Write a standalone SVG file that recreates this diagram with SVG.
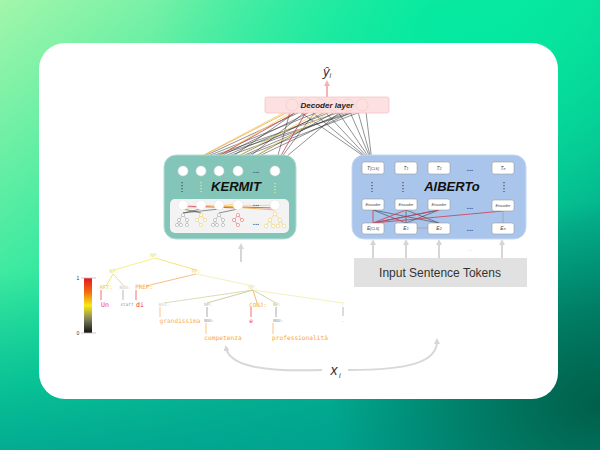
<svg xmlns="http://www.w3.org/2000/svg" width="600" height="450" viewBox="0 0 600 450">
<defs>
<linearGradient id="bg" x1="0" y1="0" x2="1" y2="1">
<stop offset="0" stop-color="#a2f6aa"/>
<stop offset="0.45" stop-color="#10e49c"/>
<stop offset="0.8" stop-color="#00a889"/>
<stop offset="1" stop-color="#00745a"/>
</linearGradient>
<radialGradient id="tr" cx="0.75" cy="0.05" r="0.5">
<stop offset="0" stop-color="#00eaa0" stop-opacity="0.9"/>
<stop offset="1" stop-color="#00eaa0" stop-opacity="0"/>
</radialGradient>
<radialGradient id="br" cx="1" cy="0.9" r="0.45">
<stop offset="0" stop-color="#005a44" stop-opacity="0.9"/>
<stop offset="1" stop-color="#005a44" stop-opacity="0"/>
</radialGradient>
<linearGradient id="bot" x1="0" y1="0" x2="0" y2="1">
<stop offset="0.6" stop-color="#00a08c" stop-opacity="0"/>
<stop offset="1" stop-color="#00a090" stop-opacity="0.8"/>
</linearGradient>
<linearGradient id="scale" x1="0" y1="0" x2="0" y2="1">
<stop offset="0" stop-color="#e8141e"/>
<stop offset="0.25" stop-color="#f26a10"/>
<stop offset="0.5" stop-color="#f8ec10"/>
<stop offset="0.75" stop-color="#808060"/>
<stop offset="1" stop-color="#101010"/>
</linearGradient>
<marker id="ag" viewBox="0 0 10 10" refX="5" refY="5" markerWidth="3" markerHeight="3" orient="auto">
<path d="M0,0 L10,5 L0,10 z" fill="#d6d6d6"/>
</marker>
<marker id="ap" viewBox="0 0 10 10" refX="5" refY="5" markerWidth="3" markerHeight="3" orient="auto">
<path d="M0,0 L10,5 L0,10 z" fill="#f5b4b4"/>
</marker>
<style>
.bl{stroke:#2a2a2a;stroke-width:0.6;stroke-opacity:0.85;fill:none}
.ye{stroke:#f2cf60;stroke-width:0.8;fill:none}
.rd{stroke:#d23a4a;stroke-width:0.8;fill:none}
.or{stroke:#f0a848;stroke-width:0.8;fill:none}
.wc{fill:#ffffff;stroke:#dddddd;stroke-width:0.5}
.box{fill:#ffffff;stroke:#9a9a9a;stroke-width:0.6}
.bt{font-family:'Liberation Sans',Arial,sans-serif;font-style:italic;font-size:5px;fill:#444;text-anchor:middle}
.enc{font-family:'Liberation Sans',Arial,sans-serif;font-style:italic;font-size:4px;fill:#444;text-anchor:middle}
.dots{font-family:'Liberation Sans',Arial,sans-serif;font-size:8px;font-weight:bold;fill:#555;text-anchor:middle}
.vd{stroke:#555;stroke-width:1.3;stroke-dasharray:1.3 1.7}
.vy{stroke:#e8e6a0;stroke-width:1.3;stroke-dasharray:1.3 1.7}
.tl{font-family:'DejaVu Sans Mono',monospace;text-anchor:middle}
.gr{stroke:#d8d8d8;stroke-width:2;fill:none}
.ti{fill:#fff;stroke-width:0.6}
</style>
</defs>
<rect width="600" height="450" fill="url(#bg)"/>
<rect width="600" height="450" fill="url(#tr)"/>
<rect width="600" height="450" fill="url(#bot)"/>
<rect width="600" height="450" fill="url(#br)"/>
<rect x="39" y="43" width="519" height="356" rx="26" fill="#ffffff"/>

<g id="connectors">
<line class="bl" x1="300" y1="112" x2="183" y2="166"/>
<line class="bl" x1="318" y1="112" x2="183" y2="166"/>
<line class="bl" x1="340" y1="112" x2="183" y2="166"/>
<line class="bl" x1="355" y1="112" x2="183" y2="166"/>
<line class="bl" x1="310" y1="112" x2="201" y2="166"/>
<line class="bl" x1="330" y1="112" x2="201" y2="166"/>
<line class="bl" x1="350" y1="112" x2="201" y2="166"/>
<line class="bl" x1="296" y1="112" x2="219" y2="166"/>
<line class="bl" x1="325" y1="112" x2="219" y2="166"/>
<line class="bl" x1="345" y1="112" x2="219" y2="166"/>
<line class="bl" x1="360" y1="112" x2="219" y2="166"/>
<line class="bl" x1="305" y1="112" x2="238" y2="166"/>
<line class="bl" x1="335" y1="112" x2="238" y2="166"/>
<line class="bl" x1="352" y1="112" x2="238" y2="166"/>
<line class="bl" x1="290" y1="112" x2="275" y2="166"/>
<line class="bl" x1="315" y1="112" x2="275" y2="166"/>
<line class="bl" x1="340" y1="112" x2="275" y2="166"/>
<line class="bl" x1="300" y1="112" x2="372" y2="162"/>
<line class="bl" x1="312" y1="112" x2="372" y2="162"/>
<line class="bl" x1="325" y1="112" x2="372" y2="162"/>
<line class="bl" x1="338" y1="112" x2="372" y2="162"/>
<line class="bl" x1="350" y1="112" x2="372" y2="162"/>
<line class="bl" x1="358" y1="112" x2="372" y2="162"/>
<line class="bl" x1="366" y1="112" x2="372" y2="162"/>
<line class="ye" x1="285" y1="112" x2="183" y2="166"/>
<line class="ye" x1="292" y1="112" x2="201" y2="166"/>
<line class="ye" x1="320" y1="112" x2="219" y2="166"/>
<line class="ye" x1="330" y1="112" x2="238" y2="166"/>
<line class="or" x1="288" y1="112" x2="183" y2="166"/>
<line class="rd" x1="306" y1="112" x2="275" y2="166"/>
<line class="rd" x1="296" y1="112" x2="201" y2="166"/>
<line x1="327" y1="97" x2="327" y2="83" stroke="#f5b4b4" stroke-width="2" marker-end="url(#ap)"/>
<line x1="241" y1="262" x2="241" y2="246" stroke="#d6d6d6" stroke-width="2" marker-end="url(#ag)"/>
<line x1="373" y1="258" x2="373" y2="242" stroke="#d6d6d6" stroke-width="2" marker-end="url(#ag)"/>
<line x1="406" y1="258" x2="406" y2="242" stroke="#d6d6d6" stroke-width="2" marker-end="url(#ag)"/>
<line x1="439" y1="258" x2="439" y2="242" stroke="#d6d6d6" stroke-width="2" marker-end="url(#ag)"/>
<line x1="502" y1="258" x2="502" y2="242" stroke="#d6d6d6" stroke-width="2" marker-end="url(#ag)"/>
<text x="470" y="251" font-family="Liberation Sans,Arial,sans-serif" font-size="6" fill="#d6d6d6" text-anchor="middle">...</text>
<path class="gr" d="M322,370 C262,372 230,366 226,348" marker-end="url(#ag)"/>
<path class="gr" d="M348,370 C410,370 437,362 437,341" marker-end="url(#ag)"/>
</g>

<g id="output">
<text x="327" y="76" font-family="Liberation Sans,Arial,sans-serif" font-style="italic" font-size="13" fill="#333" text-anchor="middle">ŷ<tspan font-size="7" dy="2">i</tspan></text>
</g>

<g id="decoder">
<rect x="265" y="97" width="124" height="16" rx="2" fill="#fde0e0" stroke="#f6c4c4" stroke-width="0.8"/>
<g fill="none" stroke="#f0c8c8" stroke-width="0.6">
<circle cx="292" cy="105" r="6"/><circle cx="306" cy="105" r="6"/><circle cx="320" cy="105" r="6"/><circle cx="334" cy="105" r="6"/><circle cx="348" cy="105" r="6"/><circle cx="362" cy="105" r="6"/>
</g>
<text x="327" y="108" font-family="Liberation Sans,Arial,sans-serif" font-style="italic" font-weight="bold" font-size="8" fill="#222" text-anchor="middle">Decoder layer</text>
</g>

<g id="kermit">
<rect x="164" y="155" width="132" height="84" rx="12" fill="#84c5b9" stroke="#b6ddd4" stroke-width="1"/>
<circle class="wc" cx="183" cy="171" r="5"/><circle class="wc" cx="201" cy="171" r="5"/><circle class="wc" cx="219" cy="171" r="5"/><circle class="wc" cx="238" cy="171" r="5"/><circle class="wc" cx="275" cy="171" r="5"/>
<text class="dots" x="256" y="173">...</text>
<line class="vd" x1="182" y1="182" x2="182" y2="192"/>
<line class="vy" x1="201" y1="182" x2="201" y2="192"/>
<line class="vy" x1="275" y1="183" x2="275" y2="193"/>
<text x="236" y="191" font-family="Liberation Sans,Arial,sans-serif" font-style="italic" font-weight="bold" font-size="13" fill="#111" text-anchor="middle">KERMIT</text>
<rect x="170" y="199" width="119" height="34" rx="5" fill="#f3f3f3"/>
<g>
<line class="bl" x1="183" y1="209" x2="201" y2="213"/>
<line class="bl" x1="201" y1="209" x2="183" y2="213"/>
<line class="bl" x1="219" y1="209" x2="183" y2="213"/>
<line class="rd" x1="183" y1="206" x2="238" y2="208" stroke-width="0.6"/>
<line class="rd" x1="201" y1="206" x2="275" y2="208" stroke-width="0.6"/>
<line class="ye" x1="183" y1="208" x2="275" y2="205" stroke-width="0.6"/>
<line class="ye" x1="201" y1="208" x2="238" y2="204" stroke-width="0.6"/>
<line class="or" x1="219" y1="206" x2="275" y2="210" stroke-width="0.6"/>
<line class="bl" x1="238" y1="209" x2="219" y2="213"/>
</g>
<circle class="wc" cx="183" cy="205" r="5"/><circle class="wc" cx="201" cy="205" r="5"/><circle class="wc" cx="219" cy="205" r="5"/><circle class="wc" cx="238" cy="205" r="5"/><circle class="wc" cx="275" cy="205" r="5"/>
<text class="dots" x="256" y="206">...</text>
<text class="dots" x="256" y="225">...</text>
<g stroke="#a8a8a8" fill="none" stroke-width="0.6">
<path d="M183,215 L179,220 L177,225 M179,220 L181,225 M183,215 L187,220 L187,225"/>
<path d="M219,215 L215,220 L213,225 M215,220 L217,225 M219,215 L223,220 L223,225"/>
</g>
<g class="ti" stroke="#a8a8a8"><circle cx="183" cy="215" r="1.6"/><circle cx="179" cy="220" r="1.6"/><circle cx="187" cy="220" r="1.6"/><circle cx="177" cy="225" r="1.6"/><circle cx="181" cy="225" r="1.6"/><circle cx="187" cy="225" r="1.6"/>
<circle cx="219" cy="215" r="1.6"/><circle cx="215" cy="220" r="1.6"/><circle cx="223" cy="220" r="1.6"/><circle cx="213" cy="225" r="1.6"/><circle cx="217" cy="225" r="1.6"/><circle cx="223" cy="225" r="1.6"/></g>
<path d="M201,215 L197,220 L201,225 M201,215 L205,220" stroke="#f0d060" stroke-width="0.6" fill="none"/>
<g class="ti" stroke="#f0d060"><circle cx="201" cy="215" r="1.6"/><circle cx="197" cy="220" r="1.6"/><circle cx="205" cy="220" r="1.6"/><circle cx="201" cy="225" r="1.6"/></g>
<path d="M238,215 L234,220 L238,225 M238,215 L242,220" stroke="#e86a6a" stroke-width="0.6" fill="none"/>
<g class="ti" stroke="#e86a6a"><circle cx="238" cy="215" r="1.6"/><circle cx="234" cy="220" r="1.6"/><circle cx="242" cy="220" r="1.6"/><circle cx="238" cy="225" r="1.6"/></g>
<path d="M275,214 L270,220 L266,226 M270,220 L273,226 M275,214 L280,220 L278,226 M280,220 L284,226" stroke="#f0d060" stroke-width="0.6" fill="none"/>
<g class="ti" stroke="#f0d060"><circle cx="275" cy="214" r="1.8"/><circle cx="270" cy="220" r="1.8"/><circle cx="280" cy="220" r="1.8"/><circle cx="266" cy="226" r="1.8"/><circle cx="273" cy="226" r="1.8"/><circle cx="278" cy="226" r="1.8"/><circle cx="284" cy="226" r="1.8"/></g>
</g>

<g id="alberto">
<rect x="352" y="155" width="174" height="84" rx="12" fill="#a9c5ec" stroke="#c8d8f2" stroke-width="1"/>
<rect class="box" x="362" y="162" width="22" height="12" rx="2"/><text class="bt" x="373" y="170">T<tspan font-size="3.5">[CLS]</tspan></text>
<rect class="box" x="395" y="162" width="22" height="12" rx="2"/><text class="bt" x="406" y="170">T<tspan font-size="3.5">1</tspan></text>
<rect class="box" x="428" y="162" width="22" height="12" rx="2"/><text class="bt" x="439" y="170">T<tspan font-size="3.5">2</tspan></text>
<rect class="box" x="492" y="162" width="22" height="12" rx="2"/><text class="bt" x="503" y="170">T<tspan font-size="3.5">n</tspan></text>
<text class="dots" x="470" y="171">...</text>
<line class="vd" x1="372" y1="182" x2="372" y2="192"/>
<line class="vd" x1="403" y1="182" x2="403" y2="192"/>
<line class="vd" x1="504" y1="182" x2="504" y2="192"/>
<text x="452" y="191" font-family="Liberation Sans,Arial,sans-serif" font-style="italic" font-weight="bold" font-size="13" fill="#111" text-anchor="middle">AlBERTo</text>
<g>
<line class="bl" x1="373" y1="210" x2="406" y2="223"/>
<line class="bl" x1="373" y1="210" x2="439" y2="223"/>
<line class="bl" x1="406" y1="210" x2="406" y2="223"/>
<line class="bl" x1="406" y1="210" x2="439" y2="223"/>
<line class="bl" x1="439" y1="210" x2="406" y2="223"/>
<line class="bl" x1="439" y1="210" x2="373" y2="223"/>
<line class="rd" x1="373" y1="223" x2="373" y2="210"/>
<line class="rd" x1="373" y1="223" x2="406" y2="210"/>
<line class="rd" x1="373" y1="223" x2="439" y2="210"/>
<line class="rd" x1="373" y1="223" x2="503" y2="211"/>
<line x1="503" y1="211" x2="503" y2="223" stroke="#999" stroke-width="0.6"/>
<line x1="417" y1="228" x2="428" y2="228" stroke="#999" stroke-width="0.6"/>
</g>
<rect class="box" x="362" y="199" width="22" height="11" rx="2"/><text class="enc" x="373" y="206">Encoder</text>
<rect class="box" x="395" y="199" width="22" height="11" rx="2"/><text class="enc" x="406" y="206">Encoder</text>
<rect class="box" x="428" y="199" width="22" height="11" rx="2"/><text class="enc" x="439" y="206">Encoder</text>
<rect class="box" x="492" y="200" width="22" height="11" rx="2"/><text class="enc" x="503" y="207">Encoder</text>
<text class="dots" x="470" y="209">...</text>
<rect class="box" x="362" y="223" width="22" height="11" rx="2"/><text class="bt" x="373" y="230">E<tspan font-size="3.5">[CLS]</tspan></text>
<rect class="box" x="395" y="223" width="22" height="11" rx="2"/><text class="bt" x="406" y="230">E<tspan font-size="3.5">1</tspan></text>
<rect class="box" x="428" y="223" width="22" height="11" rx="2"/><text class="bt" x="439" y="230">E<tspan font-size="3.5">2</tspan></text>
<rect class="box" x="492" y="223" width="22" height="11" rx="2"/><text class="bt" x="503" y="230">E<tspan font-size="3.5">n</tspan></text>
<text class="dots" x="470" y="231">...</text>
</g>

<g id="input-tokens">
<rect x="354" y="258" width="173" height="29" fill="#e1e1e1"/>
<text x="440" y="277" font-family="Liberation Sans,Arial,sans-serif" font-size="12" fill="#333" text-anchor="middle">Input Sentence Tokens</text>
</g>

<g id="input-label">
<text x="334" y="375" font-family="Liberation Sans,Arial,sans-serif" font-style="italic" font-size="14" fill="#333" text-anchor="middle">x</text>
<text x="339" y="378" font-family="Liberation Sans,Arial,sans-serif" font-style="italic" font-size="7" fill="#333">i</text>
</g>

<g id="color-scale">
<rect x="84" y="278" width="8" height="55" fill="url(#scale)"/>
<line x1="81" y1="278" x2="96" y2="278" stroke="#bbb" stroke-width="0.8"/>
<line x1="81" y1="333" x2="96" y2="333" stroke="#bbb" stroke-width="0.8"/>
<text x="78" y="280" font-family="Liberation Sans,Arial,sans-serif" font-size="5" fill="#333" text-anchor="middle">1</text>
<text x="78" y="335" font-family="Liberation Sans,Arial,sans-serif" font-size="5" fill="#333" text-anchor="middle">0</text>
</g>

<g id="parse-tree">
<g fill="none" stroke-width="0.9">
<line x1="155" y1="258" x2="114" y2="270" stroke="#f4ee80"/>
<line x1="155" y1="258" x2="196" y2="270" stroke="#f6e070"/>
<line x1="113" y1="274" x2="106" y2="286" stroke="#f0e060"/>
<line x1="113" y1="274" x2="124" y2="286" stroke="#d8d8b0"/>
<line x1="196" y1="274" x2="146" y2="286" stroke="#f6b870"/>
<line x1="196" y1="274" x2="253" y2="286" stroke="#f2eeb8"/>
<line x1="101" y1="290" x2="101" y2="300" stroke="#f06060"/>
<line x1="123" y1="290" x2="123" y2="300" stroke="#b0b0b0"/>
<line x1="136" y1="290" x2="136" y2="300" stroke="#f06060"/>
<line x1="253" y1="290" x2="164" y2="303" stroke="#d8d8b0"/>
<line x1="253" y1="290" x2="207" y2="303" stroke="#c8c8a0"/>
<line x1="253" y1="290" x2="257" y2="303" stroke="#f4b060"/>
<line x1="253" y1="290" x2="276" y2="303" stroke="#d0d0a8"/>
<line x1="253" y1="290" x2="343" y2="303" stroke="#f4f0b0"/>
<line x1="160" y1="307" x2="160" y2="317" stroke="#f8c070"/>
<line x1="207" y1="307" x2="207" y2="317" stroke="#a0a0a0"/>
<line x1="251" y1="307" x2="251" y2="317" stroke="#f06060"/>
<line x1="276" y1="307" x2="276" y2="317" stroke="#a0a0a0"/>
<line x1="343" y1="307" x2="343" y2="316" stroke="#b0b0b0"/>
<line x1="206" y1="323" x2="206" y2="334" stroke="#f8c070"/>
<line x1="273" y1="323" x2="273" y2="334" stroke="#f8c070"/>
</g>
<text class="tl" x="155" y="257" font-size="5" fill="#e8e070">NP:</text>
<text class="tl" x="114" y="273" font-size="5" fill="#e8e070">NP:</text>
<text class="tl" x="196" y="273" font-size="5" fill="#f0d050">PP:</text>
<text class="tl" x="106" y="289" font-size="5.5" fill="#f2d040">ART:</text>
<text class="tl" x="125" y="289" font-size="4.5" fill="#c8c8b8">NOU:</text>
<text class="tl" x="144" y="289" font-size="5.8" fill="#f6a848">PREP:</text>
<text class="tl" x="105" y="307" font-size="6.6" fill="#f04848">Un</text>
<text class="tl" x="127" y="306" font-size="4.3" fill="#909090">staff</text>
<text class="tl" x="140" y="307" font-size="6.6" fill="#e84040">di</text>
<text class="tl" x="253" y="289" font-size="5" fill="#e8e4a0">NP:</text>
<text class="tl" x="164" y="306" font-size="4.5" fill="#d8d0a0">ADJ:</text>
<text class="tl" x="208" y="306" font-size="4.5" fill="#c0c090">NP:</text>
<text class="tl" x="258" y="307" font-size="5.8" fill="#f4a848">CONJ:</text>
<text class="tl" x="277" y="306" font-size="4.5" fill="#c0c090">NP:</text>
<text class="tl" x="343" y="306" font-size="5" fill="#f0ec90">!</text>
<text class="tl" x="180" y="323" font-size="6.2" fill="#f8b050">grandissima</text>
<text class="tl" x="209" y="322" font-size="4" fill="#909090">NOU:</text>
<text class="tl" x="251" y="323" font-size="6.2" fill="#f04848">e</text>
<text class="tl" x="278" y="322" font-size="4" fill="#909090">NOU:</text>
<text class="tl" x="343" y="322" font-size="4" fill="#909090">.</text>
<text class="tl" x="223" y="340" font-size="6.2" fill="#f8a840">competenza</text>
<text class="tl" x="300" y="340" font-size="6.2" fill="#f8a840">professionalità</text>
</g>
</svg>
